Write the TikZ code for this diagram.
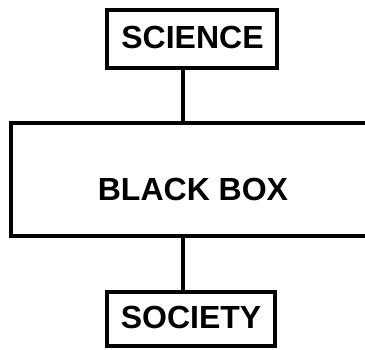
\documentclass[tikz,border=0pt]{standalone}
\usepackage{fontspec}
\setmainfont{Liberation Sans}
\begin{document}
\begin{tikzpicture}[x=1pt,y=1pt,
  boxstyle/.style={draw=black,line width=3.5pt,fill=white,inner sep=0pt},
  lbl/.style={font=\bfseries\fontsize{32}{32}\selectfont,inner sep=0pt},
  stem/.style={draw=black,line width=4pt}]
\useasboundingbox (0,0) rectangle (365,350);
\node[boxstyle,minimum width=170,minimum height=58] (science) at (192,311) {};
\node[lbl] (sciencetext) at (192.5,313) {SCIENCE};
\node[boxstyle,minimum width=380,minimum height=113] (black) at (201,170.5) {};
\node[lbl] (blacktext) at (193,161) {BLACK BOX};
\node[boxstyle,minimum width=168,minimum height=54] (society) at (191,31) {};
\node[lbl] (societytext) at (191,33) {SOCIETY};
\coordinate (stemx) at (183,0);
\draw[stem] (science.south -| stemx) -- (black.north -| stemx);
\draw[stem] (black.south -| stemx) -- (society.north -| stemx);
\end{tikzpicture}
\end{document}
